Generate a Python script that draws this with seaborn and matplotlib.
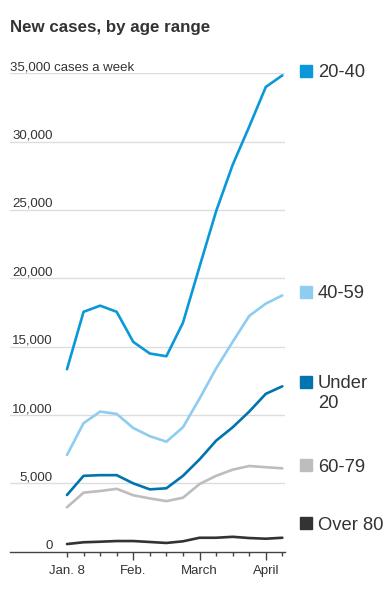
import pandas as pd
import matplotlib
matplotlib.use("Agg")
import matplotlib.pyplot as plt
import matplotlib.transforms as mtransforms
import seaborn as sns

# === DATA (weekly new cases) ===
weeks = list(range(14))  # Jan. 8 .. April 9, one point per week
age_groups = ["20-40", "40-59", "Under 20", "60-79", "Over 80"]
cases_20_40 = [13350, 17550, 18000, 17550, 15350, 14500, 14300, 16750, 20850, 24900, 28300, 31100, 34000, 34850]
cases_40_59 = [7080, 9400, 10250, 10080, 9050, 8450, 8050, 9100, 11200, 13400, 15350, 17250, 18150, 18750]
cases_under_20 = [4150, 5550, 5600, 5600, 5000, 4560, 4640, 5550, 6750, 8120, 9100, 10250, 11550, 12100]
cases_60_79 = [3250, 4320, 4440, 4600, 4130, 3900, 3700, 3950, 4950, 5550, 6000, 6270, 6180, 6100]
cases_over_80 = [560, 690, 730, 780, 780, 710, 640, 760, 1020, 1020, 1090, 1000, 950, 1020]

x_tick_pos = [0, 4, 8, 12]
x_tick_labels = ["Jan. 8", "Feb.", "March", "April"]
y_ticks = [0, 5000, 10000, 15000, 20000, 25000, 30000, 35000]
legend_names = ["20-40", "40-59", "Under\n20", "60-79", "Over 80"]
legend_y = [35190, 19020, 12440, 6340, 2080]

colors = {
    "20-40": "#0A98D8",
    "40-59": "#8ECDF0",
    "Under 20": "#0074AE",
    "60-79": "#BDBDBD",
    "Over 80": "#333333",
}

series = [cases_20_40, cases_40_59, cases_under_20, cases_60_79, cases_over_80]
df = pd.DataFrame({
    "week": weeks * len(age_groups),
    "cases": sum(series, []),
    "age": [g for g in age_groups for _ in weeks],
})

# === STYLE ===
sns.set_style("white")
plt.rcParams["font.family"] = ["Liberation Sans", "DejaVu Sans"]
text_color = "#333333"

fig = plt.figure(figsize=(3.87, 5.9), dpi=100)
ax = fig.add_axes([10 / 387, 1 - 551.7 / 590, 275 / 387, (551.7 - 73.3) / 590])

# gridlines first, underneath the lines
for v in y_ticks[1:]:
    ax.axhline(v, color="#DDDDDD", lw=1.0, zorder=0)

sns.lineplot(data=df, x="week", y="cases", hue="age", hue_order=age_groups,
             palette=colors, linewidth=1.9, legend=False, ax=ax, clip_on=False)

ax.set_xlim(-3.44, 13.16)
ax.set_ylim(0, 35000)
ax.set_xlabel("")
ax.set_ylabel("")

for s in ["top", "right", "left"]:
    ax.spines[s].set_visible(False)
ax.spines["bottom"].set_color("#444444")
ax.spines["bottom"].set_linewidth(1.0)
ax.spines["bottom"].set_zorder(5)

# x ticks: weekly minor ticks, longer ticks at month labels
ax.set_xticks(x_tick_pos, x_tick_labels)
ax.set_xticks([w for w in weeks if w not in x_tick_pos], minor=True)
ax.tick_params(axis="x", which="major", direction="out", length=5.8, width=1.0,
               color="#444444", labelsize=9.5, labelcolor=text_color, pad=4, bottom=True)
ax.tick_params(axis="x", which="minor", direction="out", length=3.2, width=1.0,
               color="#444444", bottom=True)
ax.xaxis.get_major_ticks()[0].tick1line.set_markersize(3.4)
ax.set_yticks([])

# y labels sit on top of the gridlines
yt = ax.get_yaxis_transform()
lift = mtransforms.ScaledTranslation(0, 3 / 100, fig.dpi_scale_trans)
for v in y_ticks:
    if v == 35000:
        ax.text(0.0, v, "35,000 cases a week", transform=yt + lift, ha="left",
                va="baseline", fontsize=9.5, color=text_color)
    else:
        ax.text(0.156, v, f"{v:,}", transform=yt + lift, ha="right",
                va="baseline", fontsize=9.5, color=text_color)

# labels at the right end instead of a legend
for g, name, ly in zip(age_groups, legend_names, legend_y):
    ax.plot([1.0764], [ly], marker="s", ms=8.6, color=colors[g], transform=yt,
            clip_on=False, linestyle="none")
    if "\n" in name:
        up = mtransforms.ScaledTranslation(0, 6.5 / 100, fig.dpi_scale_trans)
        ax.text(1.119, ly, name, transform=yt + up, ha="left", va="top", fontsize=13.2,
                color=text_color, linespacing=1.25)
    else:
        ax.text(1.119, ly, name, transform=yt, ha="left", va="center_baseline",
                fontsize=13.2, color=text_color)

fig.text(10 / 387, 1 - 31.7 / 590, "New cases, by age range", ha="left", va="baseline",
         fontsize=12.2, fontweight="bold", color=text_color)

fig.savefig("out.png", dpi=100)
